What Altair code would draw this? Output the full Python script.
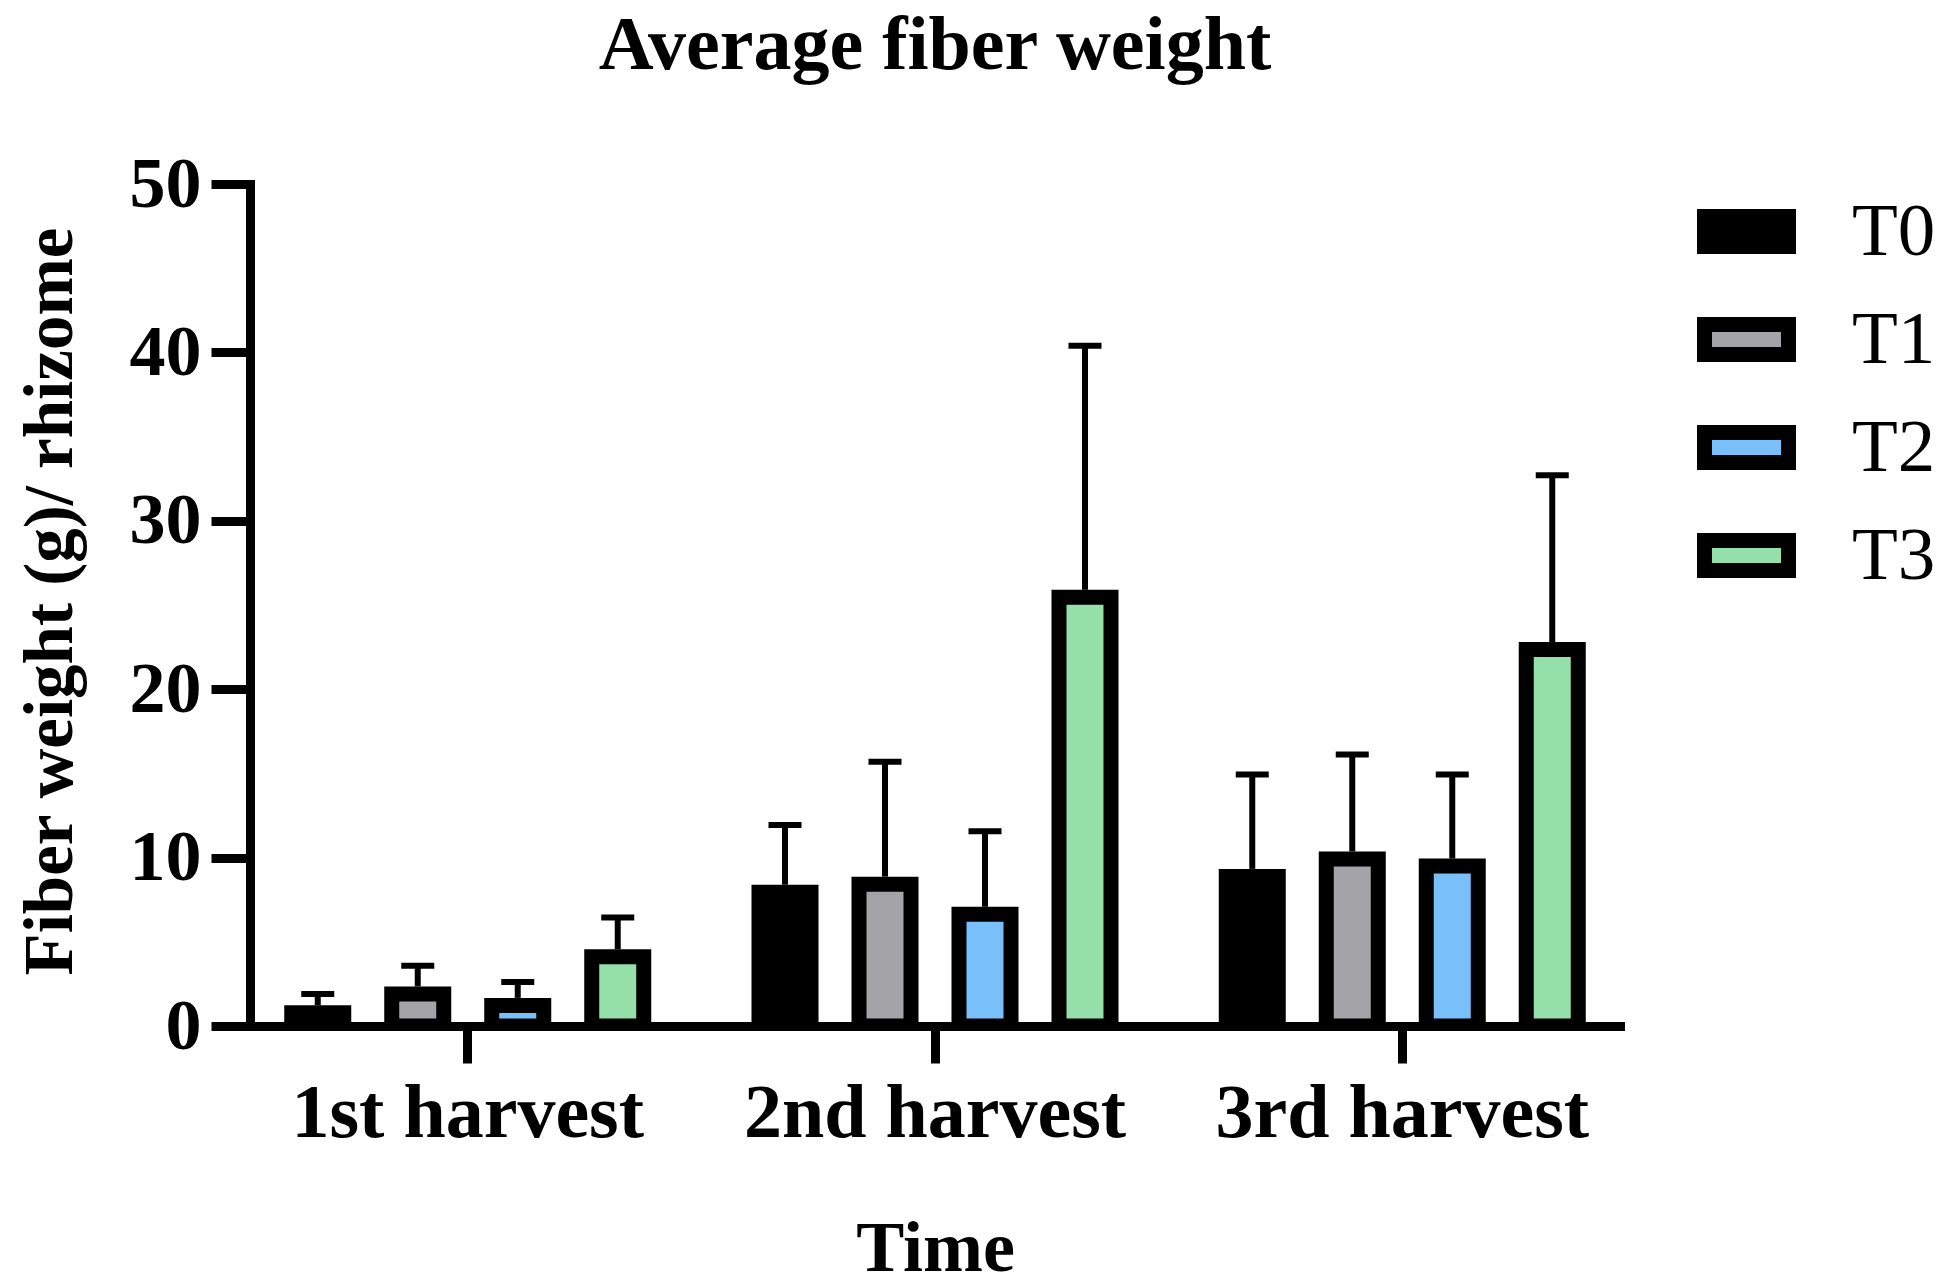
import altair as alt
import pandas as pd

harvests = ["1st harvest", "2nd harvest", "3rd harvest"]
treatments = ["T0", "T1", "T2", "T3"]

# mean fiber weight (g) per rhizome, per treatment across harvests
mean_T0 = [1.23, 8.39, 9.33]
mean_T1 = [2.35, 8.87, 10.36]
mean_T2 = [1.67, 7.08, 9.94]
mean_T3 = [4.56, 25.9, 22.8]

# error (SD) per treatment across harvests
sd_T0 = [0.67, 3.54, 5.61]
sd_T1 = [1.23, 6.82, 5.76]
sd_T2 = [0.95, 4.49, 5.00]
sd_T3 = [1.88, 14.5, 9.9]

colors = ["#000000", "#a4a3a8", "#79bffa", "#95dfa9"]

means = {"T0": mean_T0, "T1": mean_T1, "T2": mean_T2, "T3": mean_T3}
sds = {"T0": sd_T0, "T1": sd_T1, "T2": sd_T2, "T3": sd_T3}

rows = []
for t in treatments:
    for i, h in enumerate(harvests):
        rows.append({"harvest": h, "treatment": t, "mean": means[t][i],
                     "upper": means[t][i] + sds[t][i]})
df = pd.DataFrame(rows)

FONT = "Liberation Serif"

x_enc = alt.X(
    "harvest:N", sort=harvests,
    scale=alt.Scale(paddingInner=0.068, paddingOuter=0),
    axis=alt.Axis(
        title="Time", labelAngle=0, labelFont=FONT, labelFontSize=76, labelLimit=1000,
        labelFontWeight="bold", labelColor="black", labelBaseline="alphabetic",
        labelPadding=73, tickSize=37, tickWidth=9, tickColor="black",
        domainWidth=9, domainColor="black", domainCap="square",
        titleFont=FONT, titleFontSize=72, titleFontWeight="bold", titleColor="black",
        titleX=685, titleY=244, titleBaseline="alphabetic", titleAlign="center",
    ),
)
xo_enc = alt.XOffset(
    "treatment:N", sort=treatments,
    scale=alt.Scale(paddingInner=0.48, paddingOuter=0.4175),
)
y_axis = alt.Axis(
    title="Fiber weight (g)/ rhizome", values=[0, 10, 20, 30, 40, 50], grid=False,
    labelFont=FONT, labelFontSize=72, labelFontWeight="bold", labelColor="black",
    labelPadding=10, tickSize=39, tickWidth=9, tickColor="black",
    domainWidth=9, domainColor="black", domainCap="square",
    titleFont=FONT, titleFontSize=69, titleFontWeight="bold", titleColor="black",
    titleAngle=270, titleX=-179, titleY=417, titleBaseline="alphabetic", titleAlign="center",
    titleLimit=2000,
)
y_scale = alt.Scale(domain=[0, 50], nice=False)

bars = alt.Chart(df).mark_bar(
    stroke="black", strokeWidth=15, yOffset=7.5, clip=True
).encode(
    x=x_enc, xOffset=xo_enc,
    y=alt.Y("mean:Q", scale=y_scale, axis=y_axis, stack=None),
    color=alt.Color(
        "treatment:N", sort=treatments,
        scale=alt.Scale(domain=treatments, range=colors),
        legend=alt.Legend(
            title=None, orient="none", legendX=1447, legendY=-2,
            symbolType="M-1,-0.357H1V0.357H-1Z", symbolSize=7056,
            symbolStrokeWidth=15, symbolStrokeColor="black", symbolOpacity=1,
            labelFont=FONT, labelFontSize=75, labelColor="black", labelOffset=56,
            rowPadding=13, padding=0,
        ),
    ),
)

rules = alt.Chart(df).mark_rule(color="black", strokeWidth=6).encode(
    x=alt.X("harvest:N", sort=harvests), xOffset=alt.XOffset("treatment:N", sort=treatments),
    y=alt.Y("mean:Q", scale=y_scale), y2="upper:Q",
)
caps = alt.Chart(df).mark_tick(color="black", size=33, thickness=6, opacity=1).encode(
    x=alt.X("harvest:N", sort=harvests), xOffset=alt.XOffset("treatment:N", sort=treatments),
    y=alt.Y("upper:Q", scale=y_scale),
)

chart = alt.layer(bars, rules, caps).properties(
    width=1370, height=842, background="white",
    padding={"left": 250, "top": 184, "right": 326, "bottom": 262},
    autosize=alt.AutoSizeParams(type="none"),
    title=alt.TitleParams(
        "Average fiber weight", font=FONT, fontSize=76, fontWeight="bold",
        color="black", anchor="middle", frame="group", baseline="alphabetic", offset=3,
    ),
).configure_view(strokeWidth=0, stroke="transparent")

chart.save("out.html", embed_options={"renderer": "svg", "actions": False})
